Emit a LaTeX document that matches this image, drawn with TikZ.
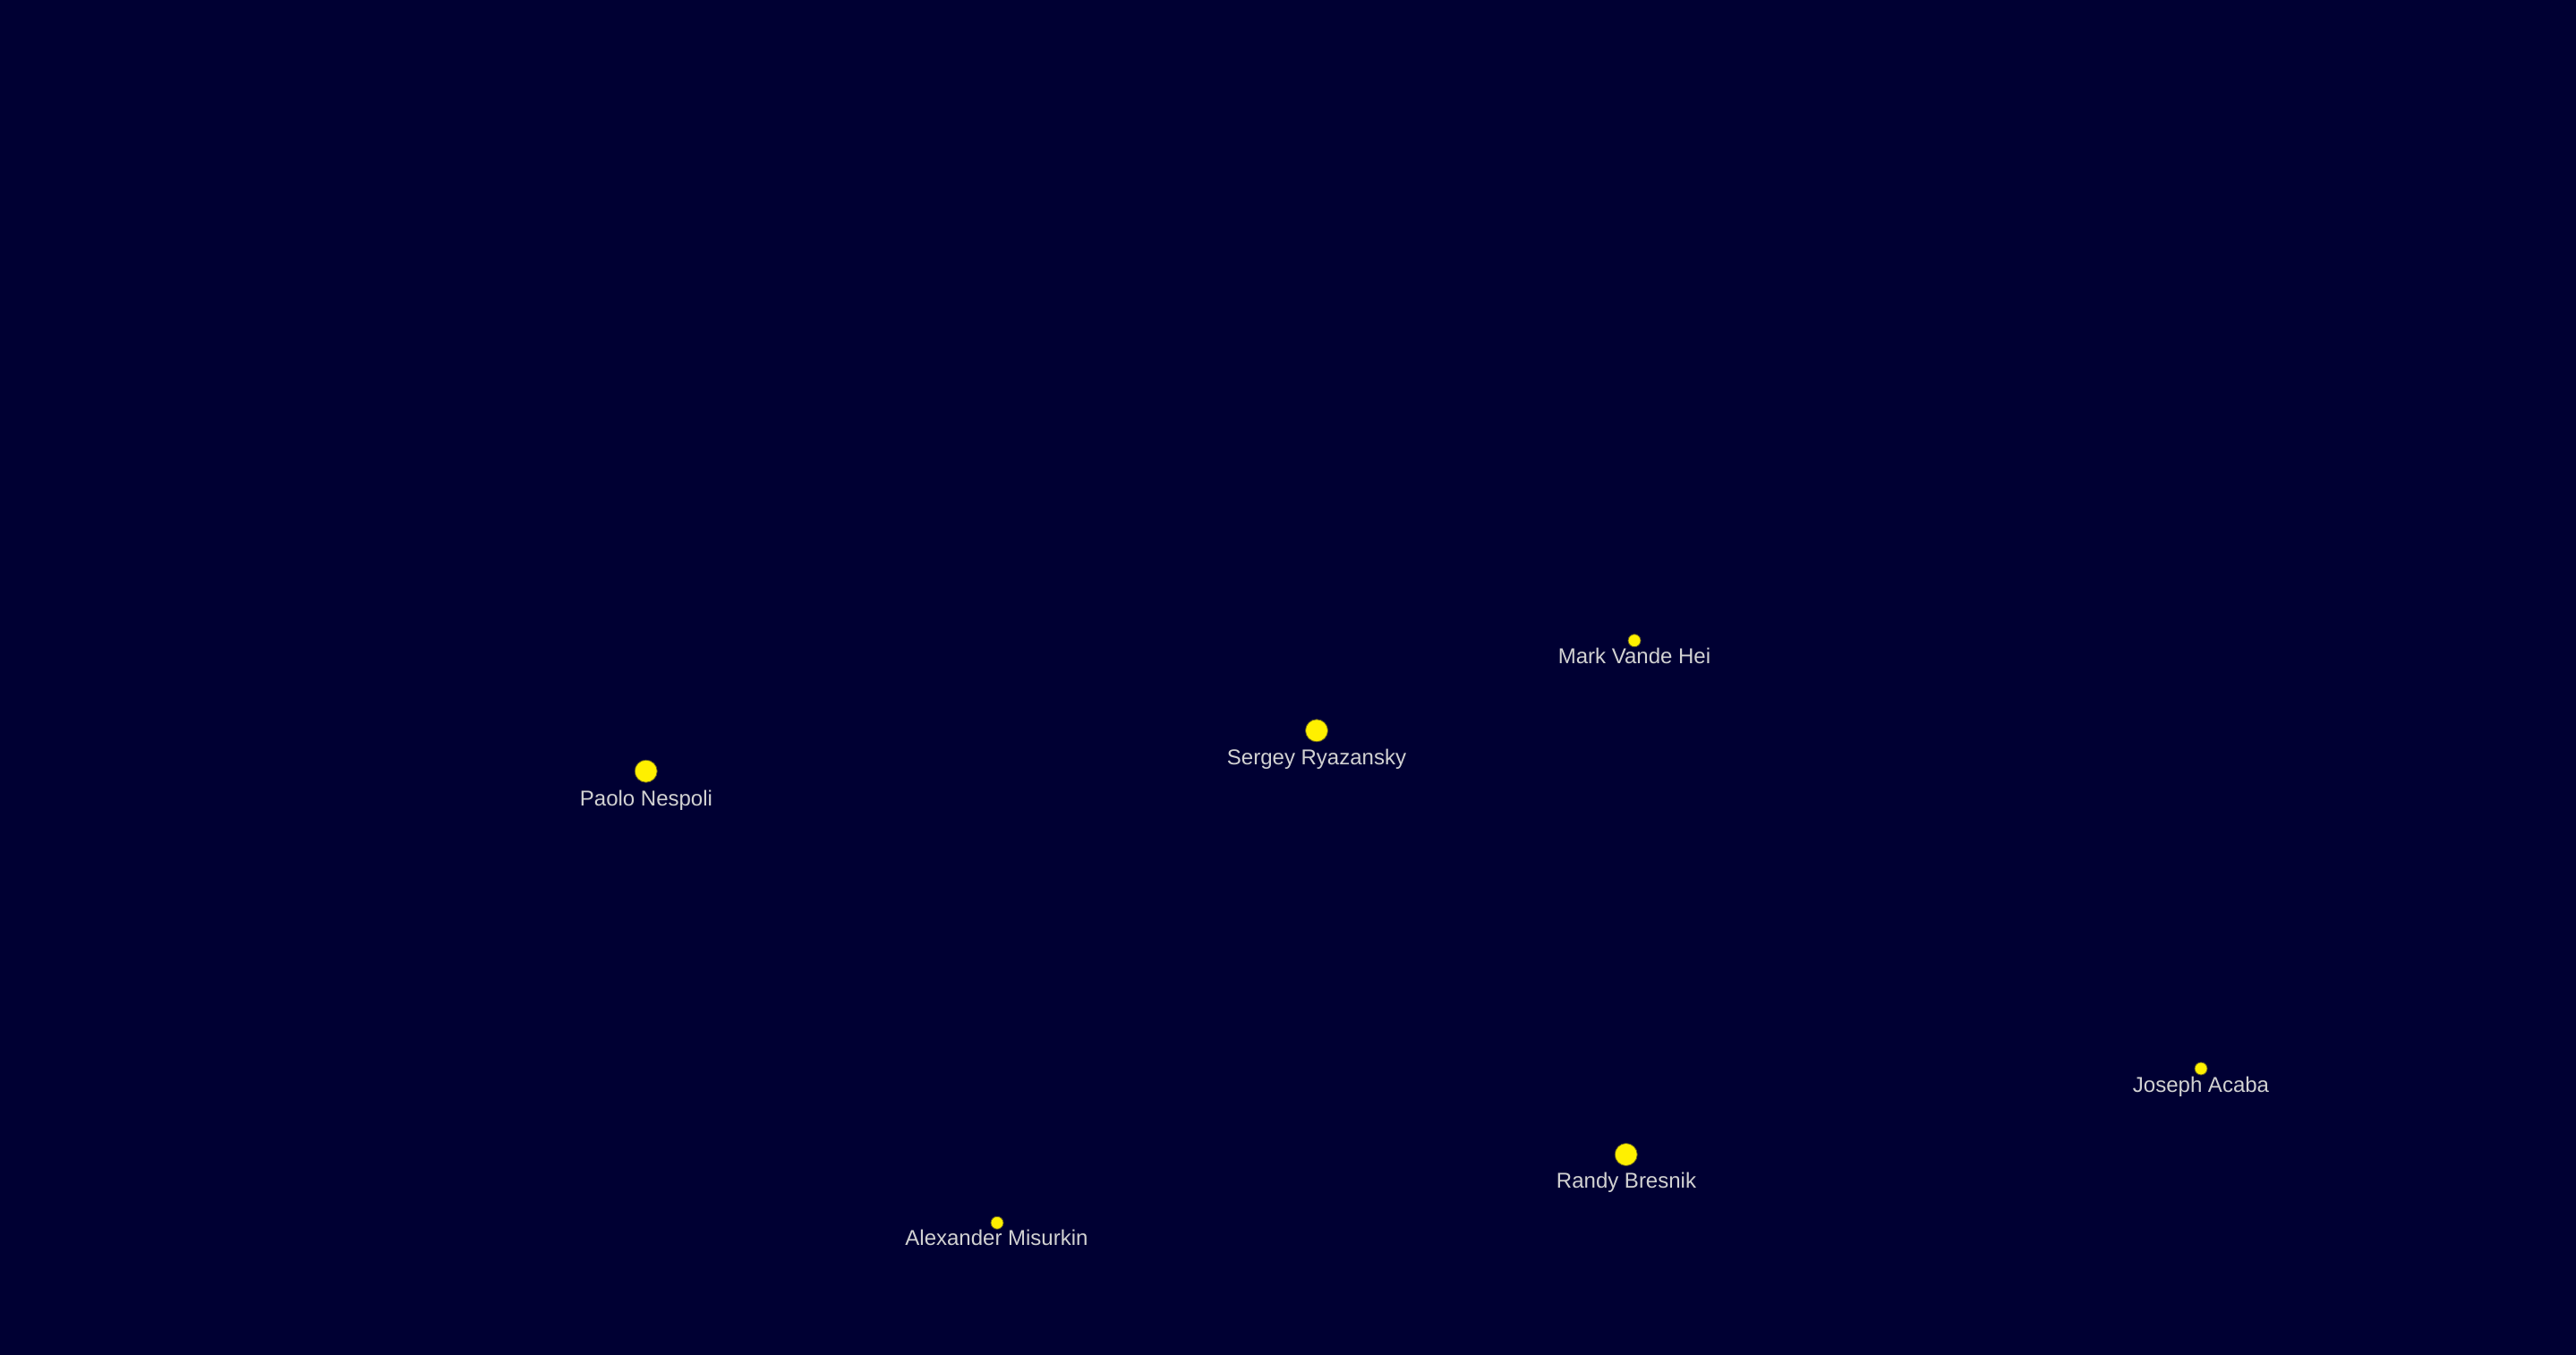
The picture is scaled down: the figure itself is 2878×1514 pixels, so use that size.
\documentclass[tikz,border=0pt]{standalone}
\usepackage{fontspec}
\setmainfont{Liberation Sans}
\definecolor{bg}{HTML}{000033}
\definecolor{dot}{HTML}{FFF000}
\definecolor{lbl}{HTML}{D2D2D2}
\begin{document}
\begin{tikzpicture}[x=1pt,y=-1pt,
  bigdot/.style={circle,fill=dot,draw=bg!60!dot,line width=0.8pt,inner sep=0pt,minimum size=25pt},
  smalldot/.style={circle,fill=dot,draw=bg!60!dot,line width=0.8pt,inner sep=0pt,minimum size=14pt},
  name label/.style={anchor=base,text=lbl,inner sep=0pt,font=\fontsize{24}{28}\selectfont}]
\fill[bg] (0,0) rectangle (2878,1514);
\useasboundingbox (0,0) rectangle (2878,1514);
\node[smalldot] (mark) at (1826,715.7) {};
\node[name label] (markl) at (1826,741.7) {Mark Vande Hei};
\node[bigdot] (sergey) at (1471,816.3) {};
\node[name label] (sergeyl) at (1471,854) {Sergey Ryazansky};
\node[bigdot] (paolo) at (721.7,861.7) {};
\node[name label] (paolol) at (722,900) {Paolo Nespoli};
\node[smalldot] (joseph) at (2459,1194) {};
\node[name label] (josephl) at (2459,1220) {Joseph Acaba};
\node[bigdot] (randy) at (1816.7,1290) {};
\node[name label] (randyl) at (1817,1327.3) {Randy Bresnik};
\node[smalldot] (alex) at (1114,1366.3) {};
\node[name label] (alexl) at (1113.5,1391.7) {Alexander Misurkin};
\end{tikzpicture}
\end{document}
